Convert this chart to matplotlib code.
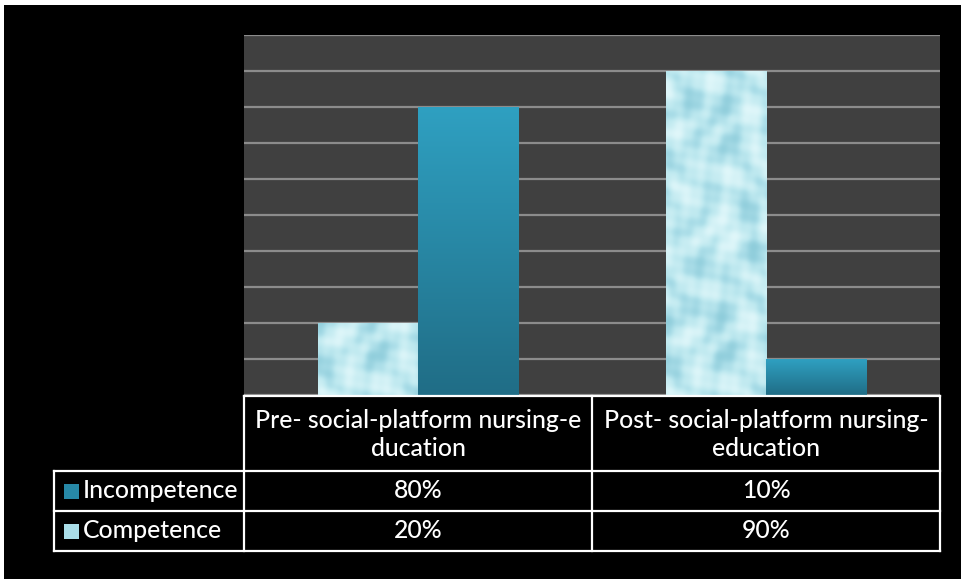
import numpy as np
import matplotlib
matplotlib.use("Agg")
import matplotlib.pyplot as plt
from matplotlib.colors import LinearSegmentedColormap
from matplotlib.patches import Rectangle
from matplotlib.lines import Line2D

# survey results (percent)
groups = ["Pre- social-platform nursing-e\nducation",
          "Post- social-platform nursing-\neducation"]
series = ["Incompetence", "Competence"]
incompetence = [80, 10]
competence = [20, 90]
cell_text = [["80%", "10%"], ["20%", "90%"]]

W, H = 962, 579
plt.rcParams["font.family"] = ["Lato", "DejaVu Sans"]


def fx(x):
    return x / W


def fy(y):
    return 1 - y / H


fig = plt.figure(figsize=(W / 100, H / 100), dpi=100)
fig.patch.set_facecolor("white")
fig.add_artist(Rectangle((fx(4), 0), 1, fy(5), transform=fig.transFigure,
                         facecolor="black", edgecolor="none", zorder=0))

ax = fig.add_axes([fx(244), fy(395), fx(696), fy(35) - fy(395)])
ax.set_facecolor("#404040")
for s in ax.spines.values():
    s.set_visible(False)

x = np.arange(len(groups))
bw = 0.2874

drops = LinearSegmentedColormap.from_list(
    "drops", ["#8fcddb", "#a8dce7", "#bde8ef", "#cdeff4", "#e0f7fa"])
teal = LinearSegmentedColormap.from_list("teal", ["#206d86", "#2fa0c1"])

# soft water-drop texture for the competence bars
gx, gy = np.meshgrid(np.linspace(0, 100, 200), np.linspace(0, 360, 720))
f1 = np.sin(gx / 9.0 + 1.6 * np.sin(gy / 17.0)) * np.cos(gy / 11.0 + 1.2 * np.sin(gx / 15.0))
f2 = np.sin((gx * 0.8 + gy) / 14.0 + 2.0) * np.cos((gx - gy * 0.6) / 12.0)
f3 = np.sin(gx / 3.5 + gy / 4.5) * np.cos(gy / 3.8 - gx / 5.0)
tex = 0.55 * f1 + 0.3 * f2 + 0.15 * f3
tex = np.tanh(1.2 * tex)

comp_bars = ax.bar(x - bw / 2, competence, bw, color="#b3e4ec", zorder=3)
inc_bars = ax.bar(x + bw / 2, incompetence, bw, color="#2690b0", zorder=3)

for b in comp_bars:
    x0 = b.get_x()
    im = ax.imshow(tex, cmap=drops, extent=[x0, x0 + b.get_width(), 0, 100],
                   aspect="auto", origin="lower", zorder=4, interpolation="bilinear")
    im.set_clip_path(b)

grad = np.linspace(0, 1, 256).reshape(-1, 1)
for b in inc_bars:
    x0 = b.get_x()
    im = ax.imshow(grad, cmap=teal, extent=[x0, x0 + b.get_width(), 0, b.get_height()],
                   aspect="auto", origin="lower", zorder=4)
    im.set_clip_path(b)

ax.set_xlim(-0.5, 1.5)
ax.set_ylim(0, 100)
ax.set_yticks(range(0, 101, 10))
ax.set_xticks([])
ax.tick_params(left=False, labelleft=False)
ax.yaxis.grid(True, color="#8c8c8c", linewidth=1.6)
ax.set_axisbelow(True)

# data table under the plot
col_x = [244, 592, 940]
label_x0 = 54
row_y = [396, 471, 511, 551]
lc = "white"
lw = 1.6


def hline(x0, x1, y):
    fig.add_artist(Line2D([fx(x0), fx(x1)], [fy(y), fy(y)], color=lc, lw=lw,
                          transform=fig.transFigure))


def vline(xp, y0, y1):
    fig.add_artist(Line2D([fx(xp), fx(xp)], [fy(y0), fy(y1)], color=lc, lw=lw,
                          transform=fig.transFigure))


hline(col_x[0], col_x[-1], row_y[0])
for yy in row_y[1:]:
    hline(label_x0, col_x[-1], yy)
for xp in col_x:
    vline(xp, row_y[0], row_y[-1])
vline(label_x0, row_y[1], row_y[-1])

fs = 17.8
for i, g in enumerate(groups):
    cx = (col_x[i] + col_x[i + 1]) / 2
    fig.text(fx(cx), fy((row_y[0] + row_y[1]) / 2 + 1), g, color="white",
             fontsize=fs, ha="center", va="center", linespacing=1.3,
             fontweight="medium")

key_colors = ["#2788a6", "#a9dde8"]
for r, name in enumerate(series):
    yc = (row_y[r + 1] + row_y[r + 2]) / 2
    fig.add_artist(Rectangle((fx(64), fy(yc + 8)), fx(15), fy(yc - 7) - fy(yc + 8),
                             transform=fig.transFigure, facecolor=key_colors[r],
                             edgecolor="none"))
    fig.text(fx(83), fy(yc), name, color="white", fontsize=fs,
             ha="left", va="center", fontweight="medium")
    for i in range(len(groups)):
        cx = (col_x[i] + col_x[i + 1]) / 2
        fig.text(fx(cx), fy(yc), cell_text[r][i], color="white", fontsize=fs,
                 ha="center", va="center", fontweight="medium")

fig.savefig("out.png", dpi=100, facecolor=fig.get_facecolor())
